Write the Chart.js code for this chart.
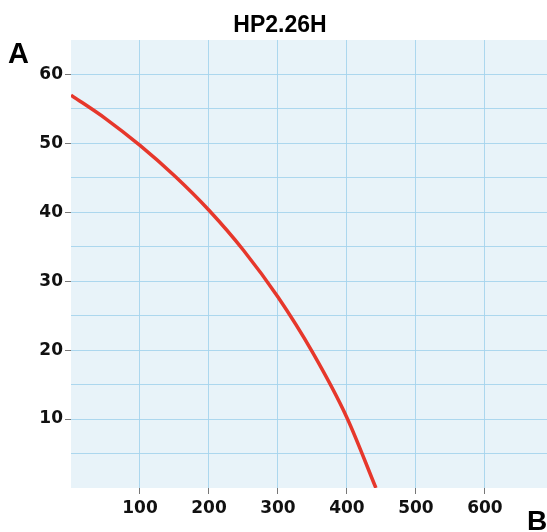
<!DOCTYPE html>
<html>
<head>
<meta charset="utf-8">
<script src="https://cdn.jsdelivr.net/npm/chart.js@4"></script>
<style>
  html, body { margin: 0; padding: 0; background: #fff; }
  #wrap { width: 547px; height: 532px; position: relative; }
</style>
</head>
<body>
<div id="wrap"><canvas id="pump" width="547" height="532"></canvas></div>
<script>
const chartTitle = 'HP2.26H';
const yAxisName = 'A';
const xAxisName = 'B';

// curve
const flowValues = [0, 50, 100, 150, 200, 250, 300, 350, 400, 442];
const headValues = [57, 53.6, 49.7, 45.3, 40.3, 34.5, 27.7, 19.7, 10.2, 0];

const xTicks = [0, 100, 200, 300, 400, 500, 600];
const yMax = 65;
const xMax = 690;

const gridBlue = 'rgba(165,212,236,0.9)';

const background = {
  id: 'background',
  beforeDraw(chart) {
    const { ctx, chartArea: a } = chart;
    ctx.save();
    ctx.fillStyle = '#e8f3f9';
    ctx.fillRect(a.left, a.top, a.right - a.left, a.bottom - a.top);
    ctx.restore();
  },
  afterDraw(chart) {
    const ctx = chart.ctx;
    ctx.save();
    ctx.fillStyle = '#000';
    ctx.textBaseline = 'alphabetic';
    ctx.font = 'bold 23px "Liberation Sans", Arial, sans-serif';
    ctx.textAlign = 'center';
    ctx.fillText(chartTitle, 280, 32);
    ctx.font = 'bold 29px "Liberation Sans", Arial, sans-serif';
    ctx.textAlign = 'left';
    ctx.fillText(yAxisName, 8, 63);
    ctx.font = 'bold 28px "Liberation Sans", Arial, sans-serif';
    ctx.fillText(xAxisName, 527, 530);
    ctx.restore();
  }
};

new Chart(document.getElementById('pump'), {
  type: 'line',
  data: {
    datasets: [{
      data: flowValues.map((x, i) => ({ x: x, y: headValues[i] })),
      borderColor: '#e6372b',
      borderWidth: 3.5,
      pointRadius: 0,
      cubicInterpolationMode: 'monotone',
      fill: false
    }]
  },
  options: {
    responsive: false,
    animation: false,
    layout: { padding: { top: 40, right: 0, left: 0, bottom: 0 } },
    plugins: { legend: { display: false }, tooltip: { enabled: false } },
    scales: {
      x: {
        type: 'linear',
        min: 0,
        max: xMax,
        afterBuildTicks: (scale) => { scale.ticks = xTicks.map(v => ({ value: v })); },
        afterFit: (scale) => { scale.height = 44; },
        border: { display: false },
        grid: {
          color: (c) => c.tick && c.tick.value === 0 ? 'rgba(0,0,0,0)' : gridBlue,
          tickColor: (c) => c.tick && c.tick.value === 0 ? 'rgba(0,0,0,0)' : '#777',
          tickLength: 6,
          lineWidth: 1
        },
        ticks: {
          padding: 4,
          color: '#111',
          font: { family: '"DejaVu Sans", sans-serif', size: 17, weight: 'bold' },
          maxRotation: 0,
          callback: (v) => v === 0 ? '' : v
        }
      },
      y: {
        type: 'linear',
        min: 0,
        max: yMax,
        afterFit: (scale) => { scale.width = 71; },
        border: { display: false },
        grid: {
          color: (c) => c.tick && (c.tick.value === 0 || c.tick.value === yMax) ? 'rgba(0,0,0,0)' : gridBlue,
          tickColor: (c) => c.tick && c.tick.value % 10 === 0 && c.tick.value !== 0 ? '#777' : 'rgba(0,0,0,0)',
          tickLength: 6,
          lineWidth: 1
        },
        ticks: {
          stepSize: 5,
          padding: 2,
          color: '#111',
          font: { family: '"DejaVu Sans", sans-serif', size: 17, weight: 'bold' },
          callback: (v) => v % 10 === 0 && v !== 0 ? v : ''
        }
      }
    }
  },
  plugins: [background]
});
</script>
</body>
</html>
